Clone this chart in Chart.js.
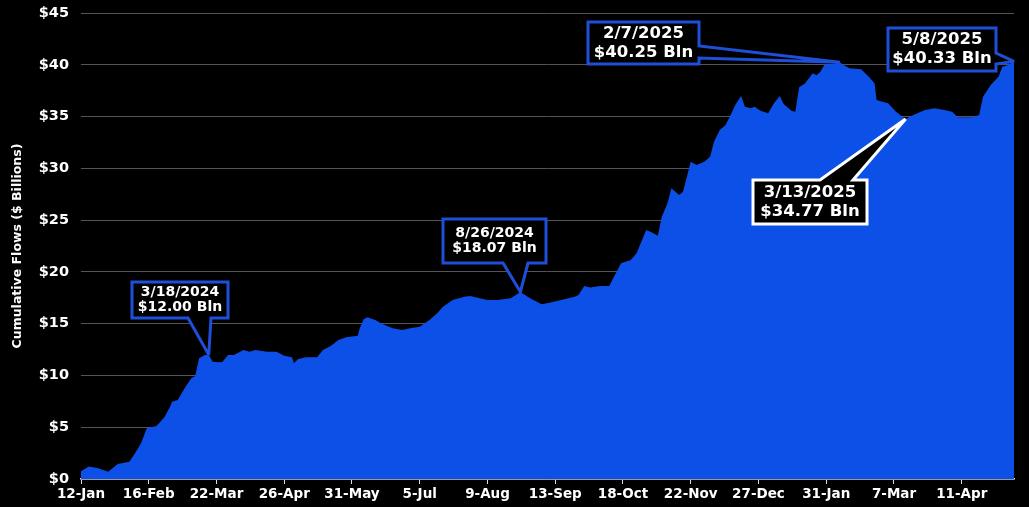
<!DOCTYPE html>
<html><head><meta charset="utf-8">
<script src="https://cdn.jsdelivr.net/npm/chart.js@4"></script>
<style>html,body{margin:0;padding:0;background:#000;}#wrap{width:1029px;height:507px;position:relative;}</style>
</head><body><div id="wrap"><canvas id="c"></canvas></div>
<script>
// Days since 12-Jan-2024 and cumulative flows ($ billions)
const flowDays = [0,4,9,14,19,25,28,31,34,39,43,46,47,50,54,57,59,61,64,66,68,71,73,76,79,84,87,90,96,101,105,109,110,112,116,122,125,129,133,137,143,144,146,148,152,156,161,166,170,175,180,184,187,192,198,201,210,215,222,227,232,238,242,248,255,257,260,263,268,273,274,279,284,287,292,295,298,300,303,305,309,311,315,318,322,325,327,330,333,336,338,341,343,346,348,351,355,358,361,363,367,369,371,374,378,380,382,384,389,392,394,397,403,407,410,411,414,417,421,426,430,436,441,446,450,453,460,464,466,470,474,476,479,482];
const flowValues = [0.75,1.2,1.05,0.7,1.45,1.67,2.5,3.45,4.9,5.12,5.95,6.98,7.47,7.63,8.92,9.72,9.95,11.65,11.97,12.0,11.33,11.27,11.3,11.97,11.97,12.45,12.3,12.45,12.3,12.3,11.9,11.75,11.17,11.56,11.75,11.75,12.45,12.84,13.42,13.68,13.84,14.55,15.42,15.61,15.35,14.94,14.55,14.39,14.55,14.71,15.35,16.0,16.64,17.28,17.6,17.67,17.28,17.28,17.45,18.07,17.45,16.87,17.03,17.28,17.6,17.77,18.64,18.5,18.64,18.64,19.05,20.83,21.15,21.8,24.04,23.8,23.5,25.3,26.62,28.07,27.42,27.74,30.64,30.32,30.64,31.12,32.57,33.7,34.18,35.31,36.11,36.98,35.95,35.79,35.95,35.56,35.31,36.28,36.98,36.21,35.56,35.47,37.82,38.2,39.17,39.0,39.33,39.97,40.1,40.25,39.97,39.66,39.56,38.85,38.2,36.6,36.43,36.28,35.47,34.77,35.15,35.63,35.79,35.63,35.47,34.93,34.93,35.15,36.92,38.05,38.85,39.81,39.97,40.33];

const xTickDays = [0,35,70,105,140,175,210,245,280,315,350,385,420,455];
const xTickLabels = ['12-Jan','16-Feb','22-Mar','26-Apr','31-May','5-Jul','9-Aug','13-Sep','18-Oct','22-Nov','27-Dec','31-Jan','7-Mar','11-Apr'];
const yTickValues = [0,5,10,15,20,25,30,35,40,45];

const annDays = [66,227,392,426,482];
const annValues = [12.00,18.07,40.25,34.77,40.33];
const annDates = ['3/18/2024','8/26/2024','2/7/2025','3/13/2025','5/8/2025'];

// callout layout (pixels)
const calloutLayout = [
  {box:[132,282,228,318], edge:'bottom', base:[188,211], color:'#1f4fd8', size:14, gap:15},
  {box:[443,219,546,263], edge:'bottom', base:[503,528], color:'#1f4fd8', size:14, gap:15},
  {box:[588,22,699,64], edge:'right', base:[46,58], color:'#1f4fd8', size:16.5, gap:19},
  {box:[753,180,867,224], edge:'top', base:[820,853], color:'#ffffff', size:16.5, gap:19},
  {box:[888,28,996,71], edge:'right', base:[53,64], color:'#1f4fd8', size:16.5, gap:19}
];

const bgPlugin = {
  id:'bg',
  beforeDraw(chart){ const c=chart.ctx; c.save(); c.fillStyle='#000'; c.fillRect(0,0,chart.width,chart.height); c.restore(); }
};

const calloutPlugin = {
  id:'callouts',
  afterDatasetsDraw(chart){
    const {ctx, scales:{x,y}} = chart;
    calloutLayout.forEach((c,i)=>{
      const tx = x.getPixelForValue(annDays[i]), ty = y.getPixelForValue(annValues[i]);
      const [x1,y1,x2,y2] = c.box;
      ctx.save();
      ctx.beginPath();
      if (c.edge==='bottom'){
        ctx.moveTo(x1,y1); ctx.lineTo(x2,y1); ctx.lineTo(x2,y2); ctx.lineTo(c.base[1],y2); ctx.lineTo(tx,ty); ctx.lineTo(c.base[0],y2); ctx.lineTo(x1,y2);
      } else if (c.edge==='top'){
        ctx.moveTo(x1,y1); ctx.lineTo(c.base[0],y1); ctx.lineTo(tx,ty); ctx.lineTo(c.base[1],y1); ctx.lineTo(x2,y1); ctx.lineTo(x2,y2); ctx.lineTo(x1,y2);
      } else {
        ctx.moveTo(x1,y1); ctx.lineTo(x2,y1); ctx.lineTo(x2,c.base[0]); ctx.lineTo(tx,ty); ctx.lineTo(x2,c.base[1]); ctx.lineTo(x2,y2); ctx.lineTo(x1,y2);
      }
      ctx.closePath();
      ctx.fillStyle='#000'; ctx.fill();
      ctx.lineWidth=3; ctx.lineJoin='miter'; ctx.miterLimit=3; ctx.strokeStyle=c.color; ctx.stroke();
      ctx.fillStyle='#fff';
      ctx.font = 'bold '+c.size+'px "DejaVu Sans", Verdana, sans-serif';
      ctx.textAlign='center'; ctx.textBaseline='middle';
      const cx=(x1+x2)/2, cy=(y1+y2)/2;
      ctx.fillText(annDates[i], cx, cy - c.gap/2);
      ctx.fillText('$'+annValues[i].toFixed(2)+' Bln', cx, cy + c.gap/2);
      ctx.restore();
    });
  }
};

new Chart(document.getElementById('c'), {
  type:'line',
  data:{
    datasets:[{
      data: flowDays.map((d,i)=>({x:d, y:flowValues[i]})),
      fill:'origin',
      backgroundColor:'#0c50e8',
      borderColor:'#0c50e8',
      borderWidth:0,
      pointRadius:0,
      tension:0
    }]
  },
  options:{
    responsive:true,
    maintainAspectRatio:false,
    animation:false,
    layout:{padding:{left:0,right:15,top:13,bottom:0}},
    plugins:{legend:{display:false}, tooltip:{enabled:false}},
    scales:{
      x:{
        type:'linear', min:0, max:482,
        afterBuildTicks(scale){ scale.ticks = xTickDays.map(v=>({value:v})); },
        afterFit(scale){ scale.height = 28; scale.paddingLeft = 0; scale.paddingRight = 0; },
        ticks:{
          autoSkip:false, maxRotation:0, padding:2,
          color:'#fff',
          font:{family:'"DejaVu Sans", Verdana, sans-serif', size:13.5, weight:'bold'},
          callback(v){ const k = xTickDays.indexOf(v); return k>=0 ? xTickLabels[k] : ''; }
        },
        grid:{drawOnChartArea:false, drawTicks:true, tickLength:5, color:'#e0e0e0', lineWidth:1},
        border:{display:true, color:'#e0e0e0', width:1.5}
      },
      y:{
        min:0, max:45,
        afterBuildTicks(scale){ scale.ticks = yTickValues.map(v=>({value:v})); },
        afterFit(scale){ scale.width = 81; scale.paddingTop = 0; scale.paddingBottom = 0; },
        ticks:{
          color:'#fff', padding:12,
          font:{family:'"DejaVu Sans", Verdana, sans-serif', size:14.5, weight:'bold'},
          callback(v){ return '$'+v; }
        },
        grid:{color:'#555555', lineWidth:1, drawTicks:false},
        border:{display:false},
        title:{
          display:true, text:'Cumulative Flows ($ Billions)', color:'#fff',
          font:{family:'"DejaVu Sans", Verdana, sans-serif', size:12.5, weight:'bold'},
          padding:{top:10,bottom:0}
        }
      }
    }
  },
  plugins:[bgPlugin, calloutPlugin]
});
</script></body></html>
